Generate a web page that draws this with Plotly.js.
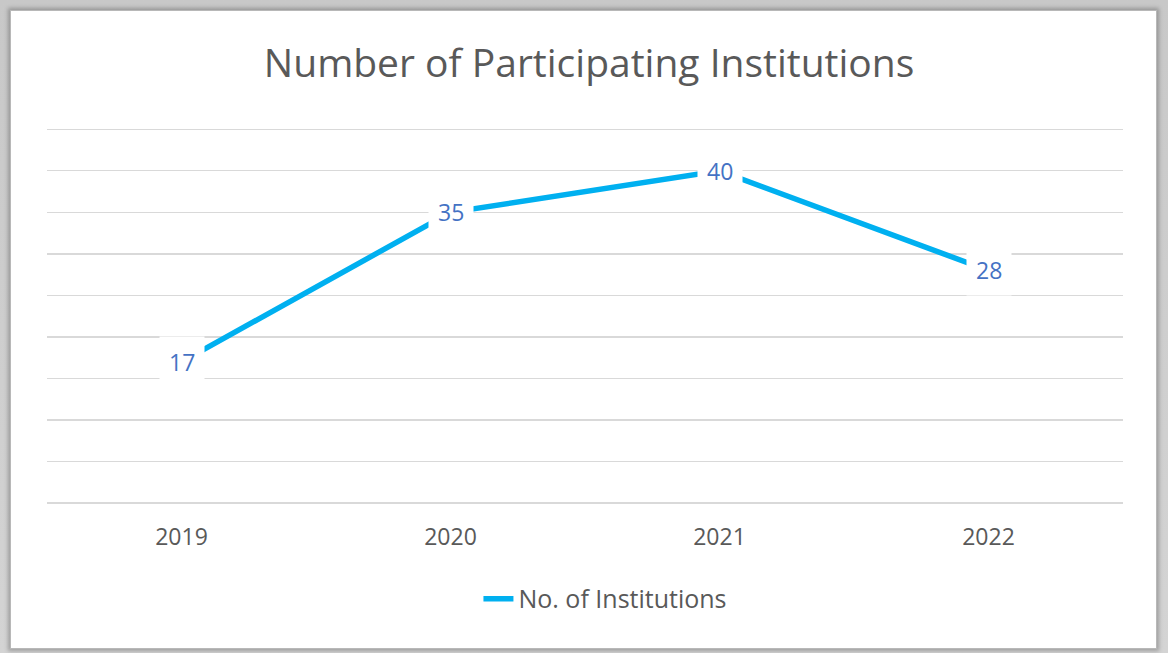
<!DOCTYPE html>
<html>
<head>
<meta charset="utf-8">
<script src="https://cdn.plot.ly/plotly-3.0.1.min.js"></script>
<style>
  html, body { margin: 0; padding: 0; background: #ffffff; width: 1168px; height: 653px; overflow: hidden; }
  #frame { position: absolute; left: 0; top: 0; width: 1168px; height: 653px;
           background: linear-gradient(#c8c8c8, #d4d4d4); }
  #chart { position: absolute; left: 10px; top: 10px; width: 1147px; height: 639px;
           background: #fff; box-shadow: 0 0 4px 2px rgba(0,0,0,0.25); border: 1px solid #b8b8b8; box-sizing: border-box; }
</style>
</head>
<body>
<div id="frame"></div>
<div id="chart"></div>
<script>
const years = ["2019", "2020", "2021", "2022"];
const institutions = [17, 35, 40, 28];
const seriesName = "No. of Institutions";
const chartTitle = "Number of Participating Institutions";

const FONT = "Open Sans, Noto Sans, sans-serif";

const trace = {
  x: years,
  y: institutions,
  type: "scatter",
  mode: "lines",
  name: seriesName,
  line: { color: "#00B0F0", width: 5.5 },
  showlegend: true,
  hoverinfo: "x+y"
};

const annotations = years.map((yr, i) => ({
  x: i,
  y: institutions[i],
  xref: "x",
  yref: "y",
  text: String(institutions[i]),
  showarrow: false,
  bgcolor: "#ffffff",
  borderpad: 9,
  font: { family: FONT, size: 23, color: "#4472C4" },
  xanchor: "center",
  yanchor: "middle"
}));

const layout = {
  width: 1147,
  height: 639,
  paper_bgcolor: "rgba(0,0,0,0)",
  plot_bgcolor: "rgba(0,0,0,0)",
  margin: { l: 36, r: 35, t: 115, b: 147 },
  title: {
    text: chartTitle,
    font: { family: FONT, size: 39, color: "#595959" },
    xref: "container", x: 0.504, xanchor: "center",
    yref: "container", y: 0.918, yanchor: "middle"
  },
  xaxis: {
    type: "category",
    range: [-0.5, 3.5],
    showgrid: false,
    showline: false,
    zeroline: false,
    ticks: "",
    ticklabelstandoff: 18,
    tickfont: { family: FONT, size: 23, color: "#595959" }
  },
  yaxis: {
    range: [0, 45.4],
    tick0: 0,
    dtick: 5,
    showticklabels: false,
    showgrid: true,
    gridcolor: "#d9d9d9",
    gridwidth: 1.3,
    zeroline: true,
    zerolinecolor: "#d9d9d9",
    zerolinewidth: 1.3,
    showline: false,
    ticks: ""
  },
  legend: {
    orientation: "h",
    x: 0.519, xanchor: "center",
    yref: "container", y: 0.08, yanchor: "middle",
    font: { family: FONT, size: 25, color: "#595959" },
    bgcolor: "rgba(0,0,0,0)"
  },
  annotations: annotations,
  showlegend: true
};

Plotly.newPlot("chart", [trace], layout, { displayModeBar: false, staticPlot: true });
</script>
</body>
</html>
